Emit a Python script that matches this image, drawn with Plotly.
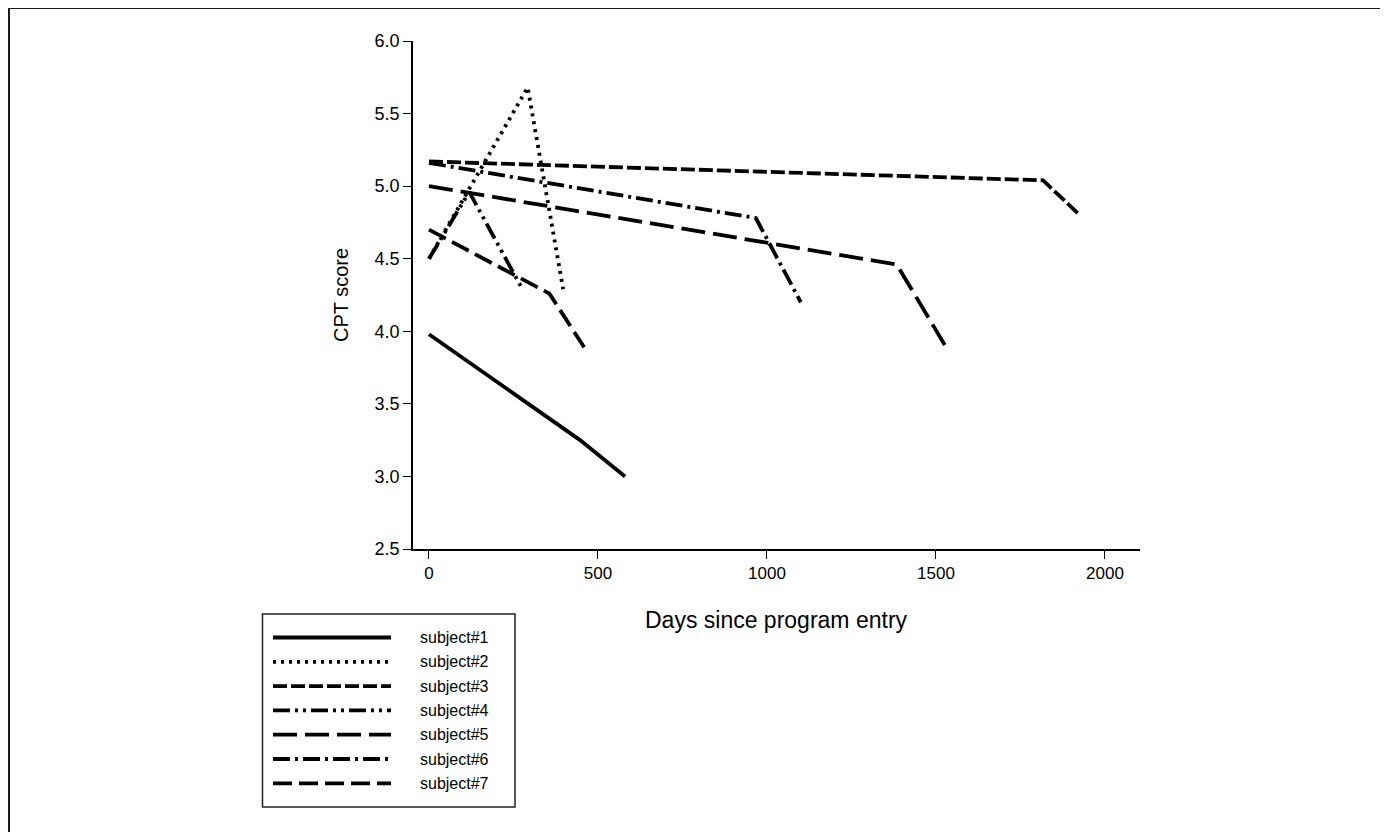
import plotly.graph_objects as go

# ---------------- data ----------------
subjects = ["subject#1", "subject#2", "subject#3", "subject#4",
            "subject#5", "subject#6", "subject#7"]

days_s1 = [0, 447, 580]
cpt_s1 = [3.98, 3.25, 3.00]

days_s2 = [0, 292, 397]
cpt_s2 = [4.50, 5.68, 4.29]

days_s3 = [0, 1817, 1921]
cpt_s3 = [5.17, 5.04, 4.81]

days_s4 = [0, 119, 274]
cpt_s4 = [4.50, 4.96, 4.30]

days_s5 = [0, 1384, 1530]
cpt_s5 = [5.00, 4.46, 3.89]

days_s6 = [0, 967, 1100]
cpt_s6 = [5.16, 4.78, 4.20]

days_s7 = [0, 356, 459]
cpt_s7 = [4.70, 4.26, 3.89]

x_ticks = [0, 500, 1000, 1500, 2000]
y_ticks = [2.5, 3.0, 3.5, 4.0, 4.5, 5.0, 5.5, 6.0]
y_tick_text = ["2.5", "3.0", "3.5", "4.0", "4.5", "5.0", "5.5", "6.0"]

# ---------------- styles ----------------
dashes = ["solid", "3px,5px", "14px,4px", "17px,5px,3px,5px,3px,5px",
          "24px,8px", "17px,5px,3px,5px", "19px,7px"]
LW = 3.8
FONT = "Liberation Sans, Arial, sans-serif"

series = [(days_s1, cpt_s1), (days_s2, cpt_s2), (days_s3, cpt_s3),
          (days_s4, cpt_s4), (days_s5, cpt_s5), (days_s6, cpt_s6),
          (days_s7, cpt_s7)]

W, H = 1388, 832
OFF = 8  # page body margin
PL, PR, PT, PB = 413, 1140, 41, 549  # plot area in page pixels


def px2x(px):
    return (px - PL) / (PR - PL)


def py2y(py):
    return (PB - py) / (PB - PT)


fig = go.Figure()
for name, (xs, ys), dash in zip(subjects, series, dashes):
    fig.add_trace(go.Scatter(
        x=xs, y=ys, mode="lines", name=name, showlegend=False,
        line=dict(color="black", width=LW, dash=dash)))

shapes = []
annotations = []

# manual legend (long line samples like the reference)
box_l, box_r, box_t, box_b = 262.5, 515, 614, 807
shapes.append(dict(type="rect", xref="paper", yref="paper",
                   x0=px2x(box_l), x1=px2x(box_r), y0=py2y(box_b), y1=py2y(box_t),
                   line=dict(color="#222", width=1.5), fillcolor="rgba(0,0,0,0)"))
row0, row_step = 637.5, 24.3
for i, (name, dash) in enumerate(zip(subjects, dashes)):
    yy = row0 + i * row_step
    shapes.append(dict(type="line", xref="paper", yref="paper",
                       x0=px2x(273), x1=px2x(391), y0=py2y(yy), y1=py2y(yy),
                       line=dict(color="black", width=LW, dash=dash)))
    annotations.append(dict(text=name, xref="paper", yref="paper",
                            x=px2x(418), y=py2y(yy), xanchor="left", yanchor="middle",
                            showarrow=False, font=dict(size=16, color="black", family=FONT)))

# outer frame of the figure
frame_col = "#1a1a1a"
shapes.append(dict(type="line", xref="paper", yref="paper",
                   x0=px2x(8), x1=px2x(1381), y0=py2y(8), y1=py2y(8),
                   line=dict(color=frame_col, width=2)))
shapes.append(dict(type="line", xref="paper", yref="paper",
                   x0=px2x(9), x1=px2x(9), y0=py2y(8), y1=py2y(840),
                   line=dict(color=frame_col, width=2)))
shapes.append(dict(type="line", xref="paper", yref="paper",
                   x0=px2x(1381), x1=px2x(1381), y0=py2y(8), y1=py2y(760),
                   line=dict(color=frame_col, width=2)))

# axis titles
annotations.append(dict(text="Days since program entry", xref="paper", yref="paper",
                        x=px2x(776), y=py2y(620), xanchor="center", yanchor="middle",
                        showarrow=False, font=dict(size=23, color="black", family=FONT)))
annotations.append(dict(text="CPT score", xref="paper", yref="paper",
                        x=px2x(341), y=py2y(295), xanchor="center", yanchor="middle",
                        textangle=-90, showarrow=False,
                        font=dict(size=20, color="black", family=FONT)))

fig.update_layout(
    width=W, height=H,
    margin=dict(l=PL - OFF, r=W - (PR - OFF), t=PT - OFF, b=H - (PB - OFF), pad=0),
    paper_bgcolor="white", plot_bgcolor="white",
    font=dict(family=FONT, color="black", size=16),
    shapes=shapes, annotations=annotations,
    xaxis=dict(range=[-47.3, 2103.6], tickvals=x_ticks, ticks="outside", ticklen=8,
               tickwidth=1.2, tickcolor="black", showline=True, linecolor="black",
               linewidth=1.5, showgrid=False, zeroline=False,
               tickfont=dict(size=17, family=FONT, color="black")),
    yaxis=dict(range=[2.5, 6.0], tickvals=y_ticks, ticktext=y_tick_text,
               ticks="outside", ticklen=8, tickwidth=1.2, tickcolor="black",
               showline=True, linecolor="black", linewidth=1.5, showgrid=False,
               zeroline=False, tickfont=dict(size=18, family=FONT, color="black")),
)

fig.write_html("out.html")
